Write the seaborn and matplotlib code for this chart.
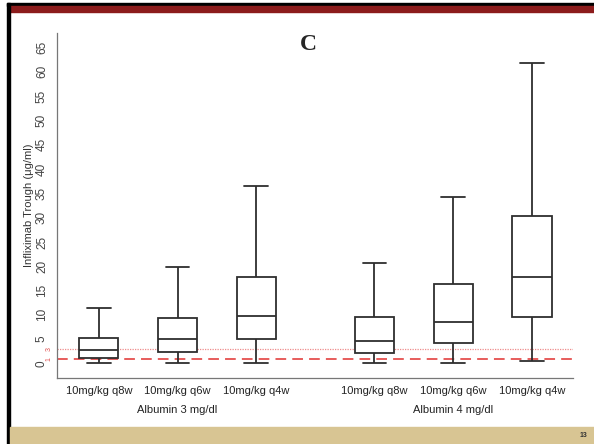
import numpy as np
import pandas as pd
import matplotlib
matplotlib.use("Agg")
import matplotlib.pyplot as plt
import seaborn as sns
from matplotlib.patches import Rectangle
from matplotlib.transforms import blended_transform_factory

# five-number summaries: min, Q1, median, Q3, max
alb3_q8w = [0.0, 1.1, 2.7, 5.3, 11.4]
alb3_q6w = [0.0, 2.3, 5.0, 9.3, 19.8]
alb3_q4w = [0.0, 5.1, 9.7, 17.8, 36.5]
alb4_q8w = [0.0, 2.05, 4.6, 9.5, 20.6]
alb4_q6w = [0.0, 4.2, 8.6, 16.3, 34.2]
alb4_q4w = [0.4, 9.5, 17.8, 30.3, 61.9]

regimens = ["10mg/kg q8w", "10mg/kg q6w", "10mg/kg q4w"]
groups = ["Albumin 3 mg/dl", "Albumin 4 mg/dl"]
yticks = list(range(0, 70, 5))
thresholds = [1, 3]

# box positions, with a wider gap between the two albumin groups
positions = [1, 2, 3, 4.5, 5.5, 6.5]
series = [alb3_q8w, alb3_q6w, alb3_q4w, alb4_q8w, alb4_q6w, alb4_q4w]

df = pd.DataFrame({
    "pos": np.repeat(positions, 5),
    "trough": np.concatenate(series),
})

sns.set_style("white")
plt.rcParams["font.family"] = ["Liberation Sans", "DejaVu Sans"]

fig = plt.figure(figsize=(5.94, 4.44), dpi=100, facecolor="white")
ax = fig.add_axes([57 / 594, 1 - 378 / 444, 516 / 594, 345 / 444])

sns.boxplot(data=df, x="pos", y="trough", native_scale=True, whis=(0, 100),
            width=0.5, color="white", saturation=1, linecolor="#2e2e2e",
            linewidth=1.3, capwidths=0.3, ax=ax)

# threshold lines
ax.axhline(thresholds[0], color="#e0302f", ls=(0, (7, 4)), lw=1.1, zorder=0)
ax.axhline(thresholds[1], color="#ee8c8c", ls=(0, (1, 1)), lw=0.9, zorder=0)

ax.set_xlim(0.47, 7.02)
ax.set_ylim(-3, 68)
ax.set_yticks(yticks)
ax.set_yticklabels([str(t) for t in yticks], rotation=90, va="center")
ax.set_xticks(positions)
ax.set_xticklabels(regimens * 2)
ax.tick_params(axis="y", length=4, width=0.8, color="#666", pad=2.5,
               labelsize=8.5, labelcolor="#444")
ax.tick_params(axis="x", length=0, pad=6, labelsize=8, labelcolor="#222")
ax.set_xlabel("")
ax.set_ylabel("Infliximab Trough (\u03bcg/ml)", fontsize=8, color="#333")
ax.yaxis.set_label_coords(-0.044, 0.5)

for side in ["top", "right"]:
    ax.spines[side].set_visible(False)
for side in ["left", "bottom"]:
    ax.spines[side].set_color("#777")
    ax.spines[side].set_linewidth(0.9)

trans = blended_transform_factory(ax.transAxes, ax.transData)
for t in thresholds:
    ax.text(-0.0155, t, str(t), transform=trans, rotation=90, fontsize=5,
            color="#e05050", ha="center", va="center")

gtrans = blended_transform_factory(ax.transData, ax.transAxes)
ax.text(2, -0.093, groups[0], transform=gtrans, ha="center", va="center",
        fontsize=8, color="#222")
ax.text(5.5, -0.093, groups[1], transform=gtrans, ha="center", va="center",
        fontsize=8, color="#222")

# slide frame
W, H = 594, 444
fig.patches.extend([
    Rectangle((7 / W, 1 - 6 / H), 587 / W, 3 / H, color="black",
              transform=fig.transFigure, figure=fig),
    Rectangle((9.5 / W, 1 - 12.5 / H), 584.5 / W, 6.5 / H, color="#8c1c1c",
              transform=fig.transFigure, figure=fig),
    Rectangle((7 / W, 0), 2.5 / W, 441 / H, color="black",
              transform=fig.transFigure, figure=fig),
    Rectangle((9.5 / W, 0), 584.5 / W, 17 / H, color="#d8c593",
              transform=fig.transFigure, figure=fig),
])

fig.text(308 / W, 1 - 45 / H, "C", fontsize=17, fontweight="bold",
         family=["Liberation Serif", "DejaVu Serif"], ha="center", va="center")
fig.text(583 / W, 1 - 435 / H, "13", fontsize=5, fontweight="bold",
         color="#333", ha="center", va="center")

fig.savefig("out.png", dpi=100, facecolor="white")
